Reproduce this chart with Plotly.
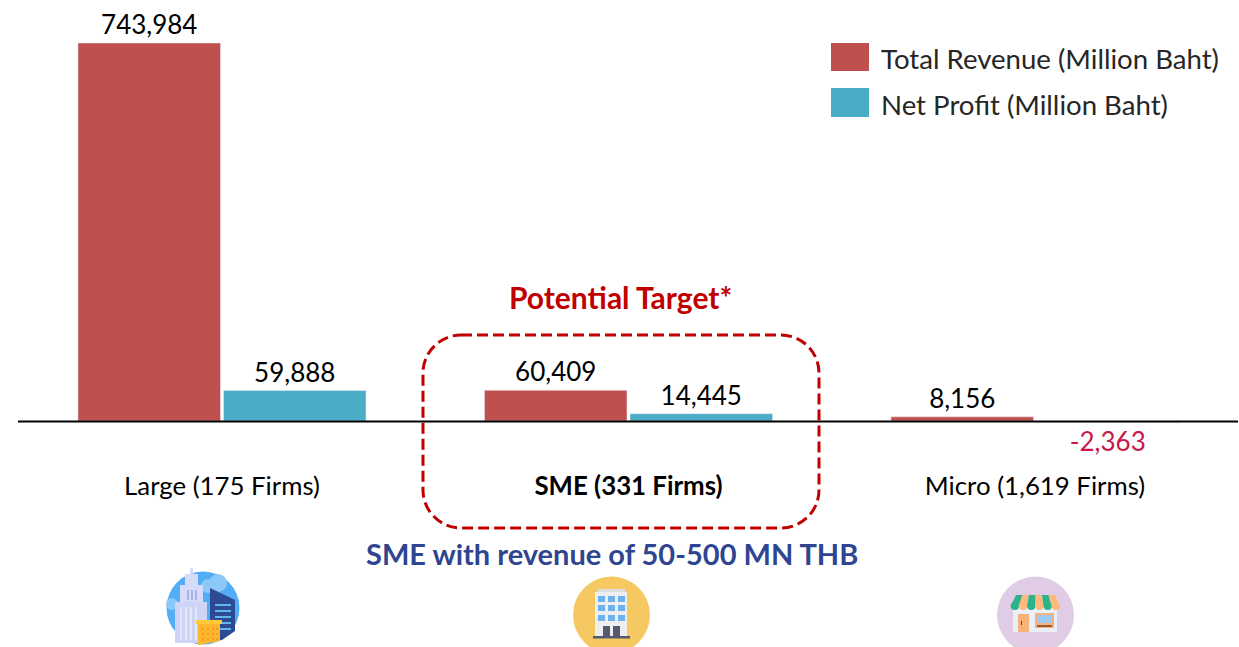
import plotly.graph_objects as go

W, H = 1239, 647
FONT = "Lato, Carlito, Calibri, sans-serif"

categories = ["Large (175 Firms)", "<b>SME (331 Firms)</b>", "Micro (1,619 Firms)"]
series_names = ["Total Revenue (Million Baht)", "Net Profit (Million Baht)"]
total_revenue = [743984, 60409, 8156]
net_profit = [59888, 14445, -2363]
colors = ["#C0504D", "#4BACC6"]
profit_label_colors = ["#000000", "#000000", "#C8174B"]
callout_title = "Potential Target*"
callout_sub = "SME with revenue of 50-500 MN THB"

BASE_Y = 421
K = 378 / 743984
y_range = [-(H - BASE_Y) / K, BASE_Y / K]
GROUP = 406.5
x_range = [-222 / GROUP, (W - 222) / GROUP]


def px(x):
    return x / W


def py(y):
    return 1 - y / H


shapes = []


def rect(x0, y0, x1, y1, color):
    shapes.append(dict(type="rect", xref="paper", yref="paper", x0=px(x0), x1=px(x1),
                       y0=py(y1), y1=py(y0), fillcolor=color, line_width=0, layer="above"))


def circle(cx, cy, r, color):
    shapes.append(dict(type="circle", xref="paper", yref="paper", x0=px(cx - r), x1=px(cx + r),
                       y0=py(cy + r), y1=py(cy - r), fillcolor=color, line_width=0, layer="above"))


def poly(points, color):
    path = "M " + " L ".join(f"{px(x):.5f},{py(y):.5f}" for x, y in points) + " Z"
    shapes.append(dict(type="path", xref="paper", yref="paper", path=path,
                       fillcolor=color, line_width=0, layer="above"))


# baseline
shapes.append(dict(type="line", xref="paper", yref="paper", x0=px(18), x1=px(1238),
                   y0=py(BASE_Y + 0.5), y1=py(BASE_Y + 0.5), line=dict(color="#000000", width=2), layer="above"))

# dashed rounded callout
bx0, bx1, by0, by1, r = 423, 819, 335, 528, 38
c = 0.45 * r
seg = [
    f"M {px(bx0 + r):.5f},{py(by0):.5f}",
    f"L {px(bx1 - r):.5f},{py(by0):.5f}",
    f"C {px(bx1 - c):.5f},{py(by0):.5f} {px(bx1):.5f},{py(by0 + c):.5f} {px(bx1):.5f},{py(by0 + r):.5f}",
    f"L {px(bx1):.5f},{py(by1 - r):.5f}",
    f"C {px(bx1):.5f},{py(by1 - c):.5f} {px(bx1 - c):.5f},{py(by1):.5f} {px(bx1 - r):.5f},{py(by1):.5f}",
    f"L {px(bx0 + r):.5f},{py(by1):.5f}",
    f"C {px(bx0 + c):.5f},{py(by1):.5f} {px(bx0):.5f},{py(by1 - c):.5f} {px(bx0):.5f},{py(by1 - r):.5f}",
    f"L {px(bx0):.5f},{py(by0 + r):.5f}",
    f"C {px(bx0):.5f},{py(by0 + c):.5f} {px(bx0 + c):.5f},{py(by0):.5f} {px(bx0 + r):.5f},{py(by0):.5f} Z",
]
shapes.append(dict(type="path", xref="paper", yref="paper", path=" ".join(seg),
                   line=dict(color="#C00000", width=3, dash="11px,5px"), layer="above"))

# legend swatches
rect(831, 43, 869, 71, colors[0])
rect(831, 88, 869, 117, colors[1])

# icon: city buildings
circle(203, 608, 36.5, "#52ADF5")
circle(218, 583, 9, "#8CC8F8")
circle(208, 586, 7, "#8CC8F8")
circle(172, 604, 6, "#8CC8F8")
rect(190, 568, 193, 575, "#D5DBF8")
rect(185, 574, 198, 585, "#D5DBF8")
rect(180, 585, 203, 602, "#D5DBF8")
rect(175, 602, 207, 643, "#CDD4F5")
for xi in (187, 191, 195):
    rect(xi, 590, xi + 2, 600, "#A9B3E6")
for xi in (180, 185, 190, 195):
    rect(xi, 607, xi + 2, 640, "#E3E7FB")
poly([(210, 588), (235, 600), (235, 631), (222, 640), (210, 642)], "#2D4A94")
for yi in (604, 610, 616, 622, 628):
    rect(215, yi, 231, yi + 2, "#62B5EE")
rect(196, 620, 222, 624, "#FFC93C")
poly([(198, 624), (220, 624), (220, 641), (198, 645)], "#FFB52E")
for yi in (628, 633, 638):
    for xi in (202, 207, 212, 216):
        rect(xi, yi, xi + 2, yi + 2, "#F59A2B")

# icon: office block
circle(611.5, 615, 38.5, "#F5C862")
rect(598, 589, 625, 593, "#DDDDDD")
rect(595, 592, 627, 637, "#EEEEEE")
for wy in (596, 605, 615):
    for wx in (598, 608, 618):
        rect(wx, wy, wx + 7, wy + 6, "#6CB2EE")
for dx in (603, 613):
    rect(dx, 626, dx + 7, 637, "#555A70")
rect(593, 636, 630, 638.5, "#555A70")

# icon: shop
circle(1035.5, 615, 38.5, "#E0CCE4")
rect(1013, 606, 1057, 632, "#EAF0FA")
top_w = 39 / 6
bot_w = 49.3 / 6
for i in range(6):
    col = "#2DB38A" if i % 2 == 0 else "#FDB97D"
    tx = 1016 + i * top_w
    bx = 1010.7 + i * bot_w
    poly([(tx, 595), (tx + top_w, 595), (bx + bot_w, 606), (bx, 606)], col)
    circle(bx + bot_w / 2, 606, bot_w / 2, col)
rect(1018, 614, 1029, 632, "#F9B27A")
rect(1021, 621, 1022, 625, "#444444")
rect(1035, 613, 1054, 628, "#F9B27A")
rect(1037, 615, 1052, 623, "#9CCBF5")
rect(1037, 625, 1052, 627, "#9A5B3A")

fig = go.Figure()
fig.add_bar(name=series_names[0], x=categories, y=total_revenue, marker_color=colors[0],
            text=[f"{v:,}" for v in total_revenue], textposition="outside", cliponaxis=False,
            textfont=dict(color="#000000", size=26, family=FONT))
fig.add_bar(name=series_names[1], x=categories, y=net_profit, marker_color=colors[1],
            text=[f"{v:,}" for v in net_profit], textposition="outside", cliponaxis=False,
            textfont=dict(color=profit_label_colors, size=26, family=FONT))

annotations = [
    dict(text=f"<b>{callout_title}</b>", x=px(620), y=py(297), showarrow=False, yanchor="middle",
         font=dict(size=30, color="#C00000", family=FONT)),
    dict(text=f"<b>{callout_sub}</b>", x=px(612), y=py(553.5), showarrow=False, yanchor="middle",
         font=dict(size=29, color="#2F4590", family=FONT)),
    dict(text=series_names[0], x=px(879), y=py(58.5), showarrow=False, xanchor="left", yanchor="middle",
         font=dict(size=27.6, color="#262626", family=FONT)),
    dict(text=series_names[1], x=px(879), y=py(104), showarrow=False, xanchor="left", yanchor="middle",
         font=dict(size=27.6, color="#262626", family=FONT)),
]
for a in annotations:
    a.update(xref="paper", yref="paper")

fig.update_layout(
    width=W, height=H, margin=dict(l=0, r=0, t=0, b=0),
    paper_bgcolor="white", plot_bgcolor="white", showlegend=False,
    barmode="group", bargap=0.284, bargroupgap=0.0206,
    shapes=shapes, annotations=annotations, font=dict(family=FONT),
    xaxis=dict(range=x_range, type="category", showgrid=False, zeroline=False, showline=False,
               ticks="", anchor="free", position=py(468.5),
               tickfont=dict(size=25.8, color="#000000", family=FONT)),
    yaxis=dict(range=y_range, visible=False, showgrid=False, zeroline=False),
)
fig.write_html("out.html", config=dict(displayModeBar=False),
               post_script="document.body.style.margin='0';document.body.style.overflow='hidden';")
